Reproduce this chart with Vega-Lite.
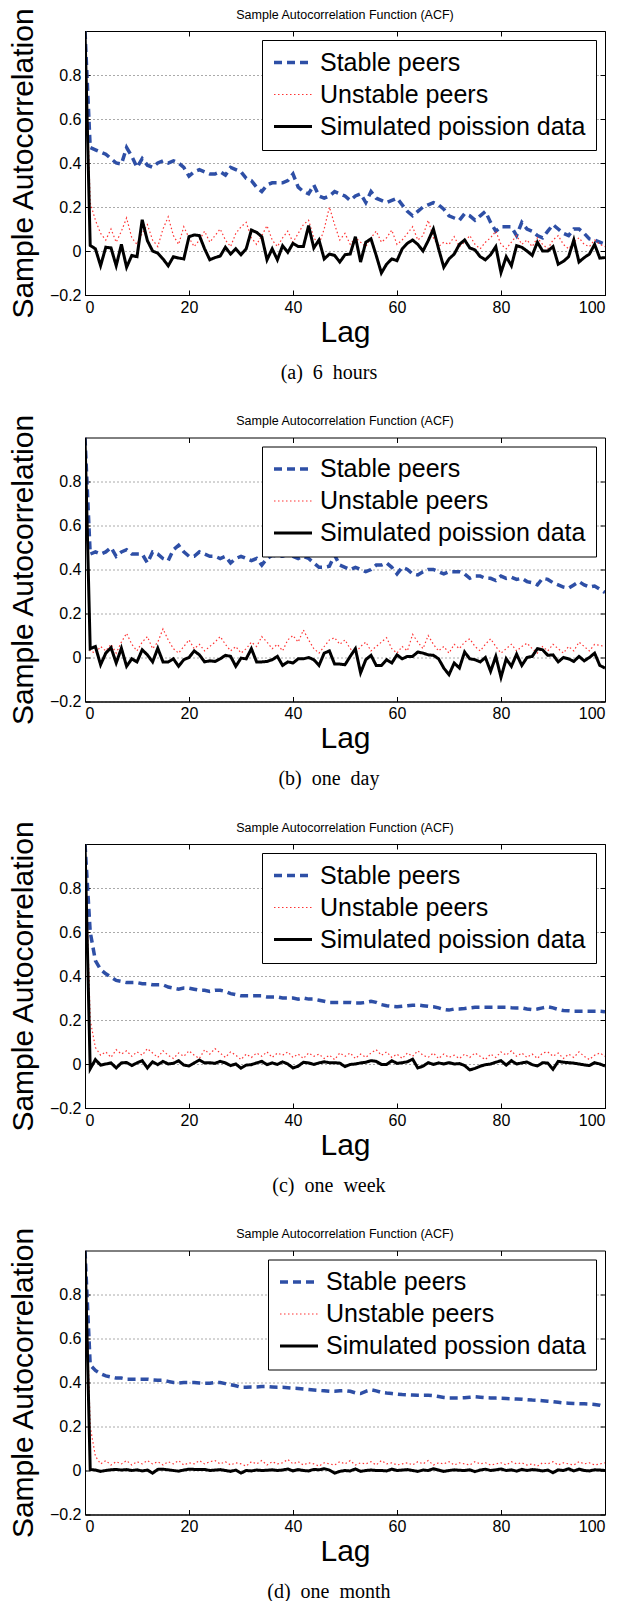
{
"$schema": "https://vega.github.io/schema/vega-lite/v6.json",
"background": "white",
"padding": {"left": 7, "top": 6, "right": 0, "bottom": 0},
"spacing": 29.5,
"config": {
 "view": {"stroke": "black", "strokeWidth": 1},
 "axis": {"labelFont": "Liberation Sans", "labelFontSize": 16, "labelColor": "black", "titleFont": "Liberation Sans", "titleFontSize": 30, "titleFontWeight": "normal", "titleColor": "black", "domainColor": "black", "tickColor": "black", "tickSize": -5, "labelPadding": 9},
 "axisX": {"grid": false, "titlePadding": 2},
 "axisY": {"gridColor": "#555555", "gridDash": [1, 3], "gridOpacity": 1, "titlePadding": 11},
 "legend": {"orient": "top-right", "offset": 9, "fillColor": "white", "strokeColor": "black", "padding": 10, "labelFont": "Liberation Sans", "labelFontSize": 25, "labelColor": "black", "symbolType": "stroke", "symbolSize": 1444, "clipHeight": 25, "rowPadding": 6, "labelOffset": 6, "labelLimit": 420},
 "title": {"font": "Liberation Sans", "fontSize": 12.5, "fontWeight": "normal", "color": "black", "offset": -14}
},
"datasets": {
"a": [
{"lag":0,"s":1,"u":1,"p":1},{"lag":1,"s":0.47,"u":0.22,"p":0.025},{"lag":2,"s":0.46,"u":0.14,"p":0.01},{"lag":3,"s":0.45,"u":0.08,"p":-0.067},{"lag":4,"s":0.44,"u":0.05,"p":0.017},{"lag":5,"s":0.42,"u":0.1,"p":0.014},{"lag":6,"s":0.4,"u":0.04,"p":-0.067},{"lag":7,"s":0.395,"u":0.09,"p":0.03},{"lag":8,"s":0.47,"u":0.15,"p":-0.074},{"lag":9,"s":0.43,"u":0.06,"p":-0.02},
{"lag":10,"s":0.38,"u":0.03,"p":-0.026},{"lag":11,"s":0.42,"u":0.08,"p":0.142},{"lag":12,"s":0.39,"u":0.12,"p":0.047},{"lag":13,"s":0.38,"u":0.05,"p":0},{"lag":14,"s":0.4,"u":0.02,"p":-0.01},{"lag":15,"s":0.41,"u":0.1,"p":-0.036},{"lag":16,"s":0.4,"u":0.155,"p":-0.067},{"lag":17,"s":0.41,"u":0.07,"p":-0.026},{"lag":18,"s":0.4,"u":0.03,"p":-0.032},{"lag":19,"s":0.38,"u":0.11,"p":-0.036},
{"lag":20,"s":0.34,"u":0.06,"p":0.065},{"lag":21,"s":0.36,"u":0.02,"p":0.073},{"lag":22,"s":0.37,"u":0.05,"p":0.07},{"lag":23,"s":0.36,"u":0.09,"p":0.01},{"lag":24,"s":0.35,"u":0.04,"p":-0.04},{"lag":25,"s":0.35,"u":0.07,"p":-0.03},{"lag":26,"s":0.36,"u":0.1,"p":-0.023},{"lag":27,"s":0.345,"u":0.05,"p":0.017},{"lag":28,"s":0.38,"u":0.02,"p":-0.014},{"lag":29,"s":0.37,"u":0.08,"p":0.01},
{"lag":30,"s":0.36,"u":0.11,"p":-0.017},{"lag":31,"s":0.33,"u":0.13,"p":0.01},{"lag":32,"s":0.32,"u":0.06,"p":0.095},{"lag":33,"s":0.29,"u":0.03,"p":0.085},{"lag":34,"s":0.27,"u":0.07,"p":0.065},{"lag":35,"s":0.3,"u":0.115,"p":-0.04},{"lag":36,"s":0.31,"u":0.05,"p":0.01},{"lag":37,"s":0.31,"u":0.02,"p":-0.04},{"lag":38,"s":0.31,"u":0.06,"p":0.024},{"lag":39,"s":0.32,"u":0.09,"p":-0.006},
{"lag":40,"s":0.35,"u":0.04,"p":0.035},{"lag":41,"s":0.29,"u":0.08,"p":0.02},{"lag":42,"s":0.27,"u":0.12,"p":0.02},{"lag":43,"s":0.26,"u":0.14,"p":0.115},{"lag":44,"s":0.3,"u":0.06,"p":0.014},{"lag":45,"s":0.25,"u":0.03,"p":0.05},{"lag":46,"s":0.24,"u":0.1,"p":-0.036},{"lag":47,"s":0.25,"u":0.2,"p":-0.014},{"lag":48,"s":0.27,"u":0.12,"p":-0.02},{"lag":49,"s":0.26,"u":0.05,"p":-0.05},
{"lag":50,"s":0.25,"u":0.08,"p":-0.017},{"lag":51,"s":0.23,"u":0.03,"p":-0.014},{"lag":52,"s":0.25,"u":0.06,"p":0.065},{"lag":53,"s":0.26,"u":0.04,"p":-0.05},{"lag":54,"s":0.22,"u":0.02,"p":0.04},{"lag":55,"s":0.27,"u":0.06,"p":0.055},{"lag":56,"s":0.24,"u":0.09,"p":-0.02},{"lag":57,"s":0.23,"u":0.04,"p":-0.1},{"lag":58,"s":0.22,"u":0.06,"p":-0.06},{"lag":59,"s":0.23,"u":0.095,"p":-0.036},
{"lag":60,"s":0.24,"u":0.03,"p":-0.044},{"lag":61,"s":0.21,"u":0.05,"p":0.01},{"lag":62,"s":0.18,"u":0.08,"p":0.035},{"lag":63,"s":0.16,"u":0.11,"p":0.05},{"lag":64,"s":0.18,"u":0.05,"p":0.03},{"lag":65,"s":0.2,"u":0.07,"p":0},{"lag":66,"s":0.21,"u":0.14,"p":0.047},{"lag":67,"s":0.22,"u":0.06,"p":0.1},{"lag":68,"s":0.21,"u":0.02,"p":0.01},{"lag":69,"s":0.19,"u":0.04,"p":-0.074},
{"lag":70,"s":0.16,"u":0.03,"p":-0.036},{"lag":71,"s":0.15,"u":0.065,"p":-0.014},{"lag":72,"s":0.14,"u":0.02,"p":0.03},{"lag":73,"s":0.17,"u":0.04,"p":0.05},{"lag":74,"s":0.16,"u":0.07,"p":0.014},{"lag":75,"s":0.14,"u":0.03,"p":0.005},{"lag":76,"s":0.16,"u":0.01,"p":-0.026},{"lag":77,"s":0.18,"u":0.04,"p":-0.04},{"lag":78,"s":0.13,"u":0.06,"p":-0.017},{"lag":79,"s":0.09,"u":0.09,"p":0.02},
{"lag":80,"s":0.11,"u":0.03,"p":-0.098},{"lag":81,"s":0.11,"u":0.01,"p":-0.026},{"lag":82,"s":0.11,"u":0.04,"p":-0.067},{"lag":83,"s":0.07,"u":0.07,"p":0.024},{"lag":84,"s":0.13,"u":0.03,"p":0.017},{"lag":85,"s":0.1,"u":0.05,"p":0},{"lag":86,"s":0.09,"u":0.02,"p":-0.02},{"lag":87,"s":0.07,"u":0.06,"p":0.04},{"lag":88,"s":0.06,"u":0.03,"p":0},{"lag":89,"s":0.09,"u":0.01,"p":0},
{"lag":90,"s":0.12,"u":0.05,"p":0.02},{"lag":91,"s":0.1,"u":0.07,"p":-0.06},{"lag":92,"s":0.08,"u":0.03,"p":-0.047},{"lag":93,"s":0.07,"u":0.01,"p":-0.026},{"lag":94,"s":0.1,"u":0.04,"p":0.05},{"lag":95,"s":0.1,"u":0.06,"p":-0.05},{"lag":96,"s":0.08,"u":0.03,"p":-0.03},{"lag":97,"s":0.055,"u":0.02,"p":-0.014},{"lag":98,"s":0.05,"u":0.05,"p":0.03},{"lag":99,"s":0.04,"u":0.03,"p":-0.032},
{"lag":100,"s":0.03,"u":0.02,"p":-0.03}
],
"b": [
{"lag":0,"s":1,"u":1,"p":1},{"lag":1,"s":0.47,"u":0.03,"p":0.04},{"lag":2,"s":0.48,"u":0.02,"p":0.05},{"lag":3,"s":0.47,"u":0.05,"p":-0.033},{"lag":4,"s":0.48,"u":0.03,"p":0.02},{"lag":5,"s":0.5,"u":0.06,"p":0.045},{"lag":6,"s":0.46,"u":0.02,"p":-0.025},{"lag":7,"s":0.48,"u":0.07,"p":0.042},{"lag":8,"s":0.49,"u":0.11,"p":-0.04},{"lag":9,"s":0.47,"u":0.06,"p":-0.006},
{"lag":10,"s":0.47,"u":0.03,"p":-0.02},{"lag":11,"s":0.47,"u":0.07,"p":0.035},{"lag":12,"s":0.43,"u":0.095,"p":0.012},{"lag":13,"s":0.48,"u":0.04,"p":-0.02},{"lag":14,"s":0.47,"u":0.07,"p":0.042},{"lag":15,"s":0.45,"u":0.13,"p":-0.02},{"lag":16,"s":0.44,"u":0.08,"p":-0.02},{"lag":17,"s":0.49,"u":0.04,"p":-0.006},{"lag":18,"s":0.51,"u":0.02,"p":-0.04},{"lag":19,"s":0.48,"u":0.05,"p":-0.01},
{"lag":20,"s":0.46,"u":0.08,"p":0},{"lag":21,"s":0.46,"u":0.04,"p":0.03},{"lag":22,"s":0.48,"u":0.06,"p":0.012},{"lag":23,"s":0.47,"u":0.03,"p":-0.02},{"lag":24,"s":0.46,"u":0.05,"p":-0.015},{"lag":25,"s":0.46,"u":0.07,"p":-0.018},{"lag":26,"s":0.45,"u":0.095,"p":-0.006},{"lag":27,"s":0.46,"u":0.06,"p":0.01},{"lag":28,"s":0.43,"u":0.03,"p":0.005},{"lag":29,"s":0.45,"u":0.05,"p":-0.04},
{"lag":30,"s":0.46,"u":0.02,"p":-0.003},{"lag":31,"s":0.45,"u":0.04,"p":-0.006},{"lag":32,"s":0.44,"u":0.07,"p":0.04},{"lag":33,"s":0.45,"u":0.05,"p":-0.02},{"lag":34,"s":0.42,"u":0.095,"p":-0.02},{"lag":35,"s":0.45,"u":0.07,"p":-0.018},{"lag":36,"s":0.465,"u":0.04,"p":-0.01},{"lag":37,"s":0.46,"u":0.06,"p":0.005},{"lag":38,"s":0.46,"u":0.03,"p":-0.036},{"lag":39,"s":0.47,"u":0.08,"p":-0.02},
{"lag":40,"s":0.46,"u":0.1,"p":-0.025},{"lag":41,"s":0.45,"u":0.07,"p":-0.006},{"lag":42,"s":0.46,"u":0.125,"p":-0.006},{"lag":43,"s":0.45,"u":0.08,"p":0},{"lag":44,"s":0.43,"u":0.04,"p":-0.01},{"lag":45,"s":0.41,"u":0.02,"p":-0.036},{"lag":46,"s":0.41,"u":0.05,"p":0.02},{"lag":47,"s":0.415,"u":0.08,"p":0.03},{"lag":48,"s":0.465,"u":0.09,"p":-0.03},{"lag":49,"s":0.42,"u":0.06,"p":-0.03},
{"lag":50,"s":0.41,"u":0.08,"p":-0.033},{"lag":51,"s":0.4,"u":0.04,"p":0.005},{"lag":52,"s":0.41,"u":0.02,"p":0.04},{"lag":53,"s":0.4,"u":0.05,"p":-0.07},{"lag":54,"s":0.39,"u":0.07,"p":-0.01},{"lag":55,"s":0.4,"u":0.03,"p":0.01},{"lag":56,"s":0.42,"u":0.05,"p":-0.036},{"lag":57,"s":0.42,"u":0.07,"p":-0.036},{"lag":58,"s":0.43,"u":0.09,"p":-0.01},{"lag":59,"s":0.41,"u":0.04,"p":-0.025},
{"lag":60,"s":0.38,"u":0.02,"p":0.012},{"lag":61,"s":0.41,"u":0.05,"p":-0.006},{"lag":62,"s":0.4,"u":0.03,"p":0.005},{"lag":63,"s":0.38,"u":0.105,"p":0.005},{"lag":64,"s":0.375,"u":0.07,"p":0.025},{"lag":65,"s":0.39,"u":0.04,"p":0.02},{"lag":66,"s":0.4,"u":0.1,"p":0.012},{"lag":67,"s":0.4,"u":0.06,"p":0.01},{"lag":68,"s":0.39,"u":0.03,"p":-0.006},{"lag":69,"s":0.38,"u":0.05,"p":-0.048},
{"lag":70,"s":0.39,"u":0.02,"p":-0.078},{"lag":71,"s":0.39,"u":0.06,"p":-0.025},{"lag":72,"s":0.39,"u":0.04,"p":-0.048},{"lag":73,"s":0.38,"u":0.07,"p":0.025},{"lag":74,"s":0.36,"u":0.085,"p":-0.006},{"lag":75,"s":0.37,"u":0.05,"p":-0.01},{"lag":76,"s":0.37,"u":0.03,"p":-0.02},{"lag":77,"s":0.36,"u":0.06,"p":0},{"lag":78,"s":0.36,"u":0.085,"p":-0.063},{"lag":79,"s":0.35,"u":0.05,"p":0.005},
{"lag":80,"s":0.37,"u":0.02,"p":-0.09},{"lag":81,"s":0.36,"u":0.04,"p":-0.006},{"lag":82,"s":0.365,"u":0.06,"p":-0.04},{"lag":83,"s":0.355,"u":0.03,"p":0.015},{"lag":84,"s":0.36,"u":0.05,"p":-0.036},{"lag":85,"s":0.345,"u":0.065,"p":0},{"lag":86,"s":0.34,"u":0.04,"p":0.005},{"lag":87,"s":0.33,"u":0.02,"p":0.04},{"lag":88,"s":0.36,"u":0.05,"p":0.035},{"lag":89,"s":0.355,"u":0.03,"p":0.01},
{"lag":90,"s":0.34,"u":0.06,"p":0.012},{"lag":91,"s":0.33,"u":0.04,"p":-0.02},{"lag":92,"s":0.32,"u":0.02,"p":0},{"lag":93,"s":0.315,"u":0.05,"p":-0.006},{"lag":94,"s":0.33,"u":0.03,"p":-0.018},{"lag":95,"s":0.345,"u":0.07,"p":0.005},{"lag":96,"s":0.33,"u":0.05,"p":-0.015},{"lag":97,"s":0.32,"u":0.03,"p":0},{"lag":98,"s":0.325,"u":0.06,"p":0.02},{"lag":99,"s":0.31,"u":0.055,"p":-0.036},
{"lag":100,"s":0.295,"u":0.05,"p":-0.048}
],
"c": [
{"lag":0,"s":1,"u":1,"p":1},{"lag":1,"s":0.6,"u":0.2,"p":-0.022},{"lag":2,"s":0.47,"u":0.075,"p":0.02},{"lag":3,"s":0.43,"u":0.04,"p":-0.005},{"lag":4,"s":0.41,"u":0.055,"p":0},{"lag":5,"s":0.395,"u":0.03,"p":0.005},{"lag":6,"s":0.38,"u":0.065,"p":-0.018},{"lag":7,"s":0.375,"u":0.045,"p":0.005},{"lag":8,"s":0.37,"u":0.06,"p":0.007},{"lag":9,"s":0.37,"u":0.035,"p":-0.007},
{"lag":10,"s":0.37,"u":0.055,"p":0.005},{"lag":11,"s":0.365,"u":0.04,"p":0.015},{"lag":12,"s":0.365,"u":0.07,"p":-0.018},{"lag":13,"s":0.36,"u":0.05,"p":0.01},{"lag":14,"s":0.36,"u":0.03,"p":-0.003},{"lag":15,"s":0.36,"u":0.06,"p":0.012},{"lag":16,"s":0.35,"u":0.04,"p":0},{"lag":17,"s":0.345,"u":0.025,"p":0.003},{"lag":18,"s":0.34,"u":0.05,"p":0.015},{"lag":19,"s":0.345,"u":0.035,"p":-0.005},
{"lag":20,"s":0.345,"u":0.06,"p":-0.009},{"lag":21,"s":0.34,"u":0.04,"p":0.005},{"lag":22,"s":0.335,"u":0.025,"p":0.018},{"lag":23,"s":0.335,"u":0.065,"p":0.005},{"lag":24,"s":0.33,"u":0.045,"p":0.006},{"lag":25,"s":0.335,"u":0.07,"p":0.003},{"lag":26,"s":0.335,"u":0.05,"p":0.012},{"lag":27,"s":0.33,"u":0.03,"p":0.005},{"lag":28,"s":0.32,"u":0.055,"p":-0.007},{"lag":29,"s":0.315,"u":0.04,"p":0},
{"lag":30,"s":0.31,"u":0.02,"p":-0.019},{"lag":31,"s":0.31,"u":0.045,"p":-0.005},{"lag":32,"s":0.31,"u":0.03,"p":-0.003},{"lag":33,"s":0.31,"u":0.05,"p":0.005},{"lag":34,"s":0.31,"u":0.035,"p":0.012},{"lag":35,"s":0.305,"u":0.055,"p":-0.003},{"lag":36,"s":0.305,"u":0.03,"p":0.005},{"lag":37,"s":0.305,"u":0.05,"p":-0.002},{"lag":38,"s":0.3,"u":0.04,"p":0.01},{"lag":39,"s":0.3,"u":0.055,"p":0},
{"lag":40,"s":0.3,"u":0.03,"p":-0.018},{"lag":41,"s":0.295,"u":0.045,"p":-0.01},{"lag":42,"s":0.3,"u":0.025,"p":0.008},{"lag":43,"s":0.295,"u":0.05,"p":0.005},{"lag":44,"s":0.295,"u":0.035,"p":-0.002},{"lag":45,"s":0.29,"u":0.045,"p":0.005},{"lag":46,"s":0.285,"u":0.025,"p":0.01},{"lag":47,"s":0.28,"u":0.04,"p":0.006},{"lag":48,"s":0.28,"u":0.02,"p":0.006},{"lag":49,"s":0.28,"u":0.05,"p":0.004},
{"lag":50,"s":0.28,"u":0.035,"p":-0.012},{"lag":51,"s":0.28,"u":0.05,"p":-0.002},{"lag":52,"s":0.277,"u":0.025,"p":0},{"lag":53,"s":0.277,"u":0.045,"p":0.005},{"lag":54,"s":0.28,"u":0.03,"p":0.008},{"lag":55,"s":0.285,"u":0.05,"p":0.015},{"lag":56,"s":0.28,"u":0.065,"p":0.012},{"lag":57,"s":0.27,"u":0.04,"p":-0.002},{"lag":58,"s":0.265,"u":0.055,"p":-0.002},{"lag":59,"s":0.262,"u":0.03,"p":0.015},
{"lag":60,"s":0.26,"u":0.045,"p":0.003},{"lag":61,"s":0.262,"u":0.025,"p":0.006},{"lag":62,"s":0.265,"u":0.05,"p":0.01},{"lag":63,"s":0.267,"u":0.035,"p":0.022},{"lag":64,"s":0.268,"u":0.06,"p":-0.018},{"lag":65,"s":0.265,"u":0.04,"p":-0.01},{"lag":66,"s":0.262,"u":0.03,"p":0.006},{"lag":67,"s":0.26,"u":0.05,"p":-0.002},{"lag":68,"s":0.255,"u":0.025,"p":0.005},{"lag":69,"s":0.248,"u":0.045,"p":0},
{"lag":70,"s":0.245,"u":0.03,"p":0.006},{"lag":71,"s":0.25,"u":0.04,"p":0},{"lag":72,"s":0.25,"u":0.025,"p":0.002},{"lag":73,"s":0.252,"u":0.045,"p":-0.007},{"lag":74,"s":0.255,"u":0.03,"p":-0.027},{"lag":75,"s":0.258,"u":0.05,"p":-0.02},{"lag":76,"s":0.258,"u":0.035,"p":-0.01},{"lag":77,"s":0.258,"u":0.02,"p":-0.003},{"lag":78,"s":0.258,"u":0.045,"p":0},{"lag":79,"s":0.258,"u":0.03,"p":0.008},
{"lag":80,"s":0.258,"u":0.055,"p":0.015},{"lag":81,"s":0.258,"u":0.04,"p":-0.005},{"lag":82,"s":0.256,"u":0.06,"p":0.015},{"lag":83,"s":0.255,"u":0.035,"p":0},{"lag":84,"s":0.255,"u":0.05,"p":0.005},{"lag":85,"s":0.25,"u":0.03,"p":0.009},{"lag":86,"s":0.247,"u":0.045,"p":-0.003},{"lag":87,"s":0.25,"u":0.025,"p":-0.009},{"lag":88,"s":0.255,"u":0.05,"p":0.006},{"lag":89,"s":0.26,"u":0.055,"p":0.004},
{"lag":90,"s":0.255,"u":0.035,"p":-0.024},{"lag":91,"s":0.248,"u":0.05,"p":0.012},{"lag":92,"s":0.243,"u":0.025,"p":0.008},{"lag":93,"s":0.242,"u":0.045,"p":0.006},{"lag":94,"s":0.24,"u":0.03,"p":0.004},{"lag":95,"s":0.24,"u":0.055,"p":0},{"lag":96,"s":0.24,"u":0.035,"p":-0.004},{"lag":97,"s":0.24,"u":0.02,"p":-0.007},{"lag":98,"s":0.24,"u":0.04,"p":0.006},{"lag":99,"s":0.24,"u":0.05,"p":0},
{"lag":100,"s":0.238,"u":0.035,"p":-0.009}
],
"d": [
{"lag":0,"s":1,"u":1,"p":1},{"lag":1,"s":0.48,"u":0.2,"p":0.005},{"lag":2,"s":0.455,"u":0.065,"p":0.002},{"lag":3,"s":0.44,"u":0.03,"p":-0.004},{"lag":4,"s":0.43,"u":0.045,"p":0},{"lag":5,"s":0.425,"u":0.025,"p":0.003},{"lag":6,"s":0.42,"u":0.04,"p":0.005},{"lag":7,"s":0.42,"u":0.03,"p":0.002},{"lag":8,"s":0.415,"u":0.045,"p":0.004},{"lag":9,"s":0.415,"u":0.025,"p":0},
{"lag":10,"s":0.415,"u":0.04,"p":0.003},{"lag":11,"s":0.415,"u":0.03,"p":-0.002},{"lag":12,"s":0.415,"u":0.045,"p":0.002},{"lag":13,"s":0.412,"u":0.03,"p":-0.012},{"lag":14,"s":0.41,"u":0.04,"p":0.005},{"lag":15,"s":0.41,"u":0.025,"p":0.006},{"lag":16,"s":0.405,"u":0.04,"p":0.003},{"lag":17,"s":0.4,"u":0.03,"p":0},{"lag":18,"s":0.398,"u":0.045,"p":-0.003},{"lag":19,"s":0.4,"u":0.025,"p":0.002},
{"lag":20,"s":0.4,"u":0.035,"p":0.006},{"lag":21,"s":0.4,"u":0.03,"p":0.005},{"lag":22,"s":0.398,"u":0.045,"p":0.004},{"lag":23,"s":0.397,"u":0.03,"p":0.005},{"lag":24,"s":0.397,"u":0.04,"p":0},{"lag":25,"s":0.4,"u":0.045,"p":0.002},{"lag":26,"s":0.4,"u":0.03,"p":0.004},{"lag":27,"s":0.395,"u":0.04,"p":0},{"lag":28,"s":0.39,"u":0.025,"p":-0.004},{"lag":29,"s":0.385,"u":0.035,"p":0.002},
{"lag":30,"s":0.378,"u":0.03,"p":-0.012},{"lag":31,"s":0.378,"u":0.02,"p":0},{"lag":32,"s":0.38,"u":0.04,"p":-0.002},{"lag":33,"s":0.38,"u":0.03,"p":0.002},{"lag":34,"s":0.382,"u":0.045,"p":0},{"lag":35,"s":0.382,"u":0.025,"p":0.001},{"lag":36,"s":0.38,"u":0.04,"p":0.003},{"lag":37,"s":0.378,"u":0.03,"p":0},{"lag":38,"s":0.378,"u":0.035,"p":0.002},{"lag":39,"s":0.376,"u":0.05,"p":0.007},
{"lag":40,"s":0.374,"u":0.03,"p":-0.002},{"lag":41,"s":0.373,"u":0.04,"p":0.004},{"lag":42,"s":0.37,"u":0.025,"p":0},{"lag":43,"s":0.368,"u":0.035,"p":-0.002},{"lag":44,"s":0.366,"u":0.03,"p":0.005},{"lag":45,"s":0.364,"u":0.02,"p":0.003},{"lag":46,"s":0.362,"u":0.035,"p":0.008},{"lag":47,"s":0.36,"u":0.03,"p":0.002},{"lag":48,"s":0.36,"u":0.025,"p":-0.012},{"lag":49,"s":0.362,"u":0.04,"p":-0.004},
{"lag":50,"s":0.363,"u":0.03,"p":0},{"lag":51,"s":0.36,"u":0.045,"p":-0.002},{"lag":52,"s":0.353,"u":0.025,"p":0.007},{"lag":53,"s":0.35,"u":0.035,"p":-0.004},{"lag":54,"s":0.36,"u":0.03,"p":0},{"lag":55,"s":0.367,"u":0.04,"p":0.002},{"lag":56,"s":0.362,"u":0.025,"p":0},{"lag":57,"s":0.355,"u":0.045,"p":0},{"lag":58,"s":0.352,"u":0.03,"p":-0.002},{"lag":59,"s":0.35,"u":0.035,"p":0.006},
{"lag":60,"s":0.347,"u":0.025,"p":0},{"lag":61,"s":0.345,"u":0.03,"p":0.002},{"lag":62,"s":0.344,"u":0.035,"p":0.004},{"lag":63,"s":0.343,"u":0.025,"p":0},{"lag":64,"s":0.342,"u":0.04,"p":-0.004},{"lag":65,"s":0.342,"u":0.03,"p":0.002},{"lag":66,"s":0.342,"u":0.045,"p":0},{"lag":67,"s":0.34,"u":0.025,"p":0.008},{"lag":68,"s":0.336,"u":0.035,"p":0.002},{"lag":69,"s":0.332,"u":0.03,"p":-0.004},
{"lag":70,"s":0.33,"u":0.04,"p":0},{"lag":71,"s":0.33,"u":0.025,"p":0.003},{"lag":72,"s":0.33,"u":0.035,"p":0.001},{"lag":73,"s":0.331,"u":0.03,"p":0},{"lag":74,"s":0.333,"u":0.025,"p":0.003},{"lag":75,"s":0.335,"u":0.04,"p":-0.005},{"lag":76,"s":0.333,"u":0.03,"p":0.002},{"lag":77,"s":0.331,"u":0.035,"p":0.006},{"lag":78,"s":0.33,"u":0.025,"p":0},{"lag":79,"s":0.329,"u":0.03,"p":0.003},
{"lag":80,"s":0.328,"u":0.035,"p":0.007},{"lag":81,"s":0.327,"u":0.025,"p":0},{"lag":82,"s":0.326,"u":0.04,"p":0.003},{"lag":83,"s":0.325,"u":0.03,"p":-0.003},{"lag":84,"s":0.324,"u":0.035,"p":0.005},{"lag":85,"s":0.322,"u":0.025,"p":0},{"lag":86,"s":0.32,"u":0.03,"p":0.004},{"lag":87,"s":0.319,"u":0.02,"p":0.002},{"lag":88,"s":0.317,"u":0.035,"p":-0.002},{"lag":89,"s":0.315,"u":0.03,"p":0.002},
{"lag":90,"s":0.313,"u":0.04,"p":-0.01},{"lag":91,"s":0.31,"u":0.025,"p":0.003},{"lag":92,"s":0.307,"u":0.035,"p":0},{"lag":93,"s":0.306,"u":0.03,"p":0.008},{"lag":94,"s":0.305,"u":0.025,"p":-0.002},{"lag":95,"s":0.304,"u":0.04,"p":0.006},{"lag":96,"s":0.303,"u":0.03,"p":0},{"lag":97,"s":0.302,"u":0.035,"p":-0.002},{"lag":98,"s":0.3,"u":0.025,"p":0.003},{"lag":99,"s":0.297,"u":0.03,"p":0.002},
{"lag":100,"s":0.29,"u":0.035,"p":0}
]
},
"vconcat": [
{"title": {"text": "(a)\u00a0 6\u00a0 hours", "orient": "bottom", "anchor": "middle", "font": "Liberation Serif", "fontSize": 20, "offset": 15, "dx": 22},
 "resolve": {"scale": {"color": "independent", "strokeDash": "independent", "strokeWidth": "independent"}, "legend": {"color": "independent", "strokeDash": "independent", "strokeWidth": "independent"}},
 "vconcat": [{
  "title": "Sample Autocorrelation Function (ACF)",
  "width": 520, "height": 264,
  "data": {"name": "a"},
  "transform": [{"fold": ["s", "u", "p"], "as": ["k", "v"]}],
  "layer": [
   {"mark": {"type": "line", "clip": true},
    "encoding": {
     "x": {"field": "lag", "type": "quantitative", "scale": {"domain": [0, 100], "nice": false}, "axis": {"values": [0, 20, 40, 60, 80, 100], "title": "Lag"}},
     "y": {"field": "v", "type": "quantitative", "scale": {"domain": [-0.2, 1], "nice": false, "zero": false}, "axis": {"values": [-0.2, 0, 0.2, 0.4, 0.6, 0.8], "format": "~g", "title": "Sample Autocorrelation"}},
     "color": {"field": "k", "type": "nominal", "scale": {"domain": ["s", "u", "p"], "range": ["#2e4fa6", "#ff3333", "#000000"]}, "legend": {"title": null, "labelExpr": "datum.label == 's' ? 'Stable peers' : datum.label == 'u' ? 'Unstable peers' : 'Simulated poission data'"}},
     "strokeDash": {"field": "k", "type": "nominal", "scale": {"domain": ["s", "u", "p"], "range": [[8, 5], [1.5, 2.5], [1, 0]]}, "legend": {"title": null, "labelExpr": "datum.label == 's' ? 'Stable peers' : datum.label == 'u' ? 'Unstable peers' : 'Simulated poission data'"}},
     "strokeWidth": {"field": "k", "type": "nominal", "scale": {"type": "ordinal", "domain": ["s", "u", "p"], "range": [3.5, 1.2, 3]}, "legend": {"title": null, "labelExpr": "datum.label == 's' ? 'Stable peers' : datum.label == 'u' ? 'Unstable peers' : 'Simulated poission data'"}}
    }},
   {"mark": {"type": "line", "opacity": 0},
    "encoding": {
     "x": {"field": "lag", "type": "quantitative", "axis": {"orient": "top", "labels": false, "title": null, "domain": false, "grid": false, "values": [0, 20, 40, 60, 80, 100]}},
     "y": {"field": "v", "type": "quantitative", "axis": {"orient": "right", "labels": false, "title": null, "domain": false, "grid": false, "values": [-0.2, 0, 0.2, 0.4, 0.6, 0.8]}}
    }}
  ],
  "resolve": {"axis": {"x": "independent", "y": "independent"}}
 }]
},
{"title": {"text": "(b)\u00a0 one\u00a0 day", "orient": "bottom", "anchor": "middle", "font": "Liberation Serif", "fontSize": 20, "offset": 15, "dx": 22},
 "resolve": {"scale": {"color": "independent", "strokeDash": "independent", "strokeWidth": "independent"}, "legend": {"color": "independent", "strokeDash": "independent", "strokeWidth": "independent"}},
 "vconcat": [{
  "title": "Sample Autocorrelation Function (ACF)",
  "width": 520, "height": 264,
  "data": {"name": "b"},
  "transform": [{"fold": ["s", "u", "p"], "as": ["k", "v"]}],
  "layer": [
   {"mark": {"type": "line", "clip": true},
    "encoding": {
     "x": {"field": "lag", "type": "quantitative", "scale": {"domain": [0, 100], "nice": false}, "axis": {"values": [0, 20, 40, 60, 80, 100], "title": "Lag"}},
     "y": {"field": "v", "type": "quantitative", "scale": {"domain": [-0.2, 1], "nice": false, "zero": false}, "axis": {"values": [-0.2, 0, 0.2, 0.4, 0.6, 0.8], "format": "~g", "title": "Sample Autocorrelation"}},
     "color": {"field": "k", "type": "nominal", "scale": {"domain": ["s", "u", "p"], "range": ["#2e4fa6", "#ff3333", "#000000"]}, "legend": {"title": null, "labelExpr": "datum.label == 's' ? 'Stable peers' : datum.label == 'u' ? 'Unstable peers' : 'Simulated poission data'"}},
     "strokeDash": {"field": "k", "type": "nominal", "scale": {"domain": ["s", "u", "p"], "range": [[8, 5], [1.5, 2.5], [1, 0]]}, "legend": {"title": null, "labelExpr": "datum.label == 's' ? 'Stable peers' : datum.label == 'u' ? 'Unstable peers' : 'Simulated poission data'"}},
     "strokeWidth": {"field": "k", "type": "nominal", "scale": {"type": "ordinal", "domain": ["s", "u", "p"], "range": [3.5, 1.2, 3]}, "legend": {"title": null, "labelExpr": "datum.label == 's' ? 'Stable peers' : datum.label == 'u' ? 'Unstable peers' : 'Simulated poission data'"}}
    }},
   {"mark": {"type": "line", "opacity": 0},
    "encoding": {
     "x": {"field": "lag", "type": "quantitative", "axis": {"orient": "top", "labels": false, "title": null, "domain": false, "grid": false, "values": [0, 20, 40, 60, 80, 100]}},
     "y": {"field": "v", "type": "quantitative", "axis": {"orient": "right", "labels": false, "title": null, "domain": false, "grid": false, "values": [-0.2, 0, 0.2, 0.4, 0.6, 0.8]}}
    }}
  ],
  "resolve": {"axis": {"x": "independent", "y": "independent"}}
 }]
},
{"title": {"text": "(c)\u00a0 one\u00a0 week", "orient": "bottom", "anchor": "middle", "font": "Liberation Serif", "fontSize": 20, "offset": 15, "dx": 22},
 "resolve": {"scale": {"color": "independent", "strokeDash": "independent", "strokeWidth": "independent"}, "legend": {"color": "independent", "strokeDash": "independent", "strokeWidth": "independent"}},
 "vconcat": [{
  "title": "Sample Autocorrelation Function (ACF)",
  "width": 520, "height": 264,
  "data": {"name": "c"},
  "transform": [{"fold": ["s", "u", "p"], "as": ["k", "v"]}],
  "layer": [
   {"mark": {"type": "line", "clip": true},
    "encoding": {
     "x": {"field": "lag", "type": "quantitative", "scale": {"domain": [0, 100], "nice": false}, "axis": {"values": [0, 20, 40, 60, 80, 100], "title": "Lag"}},
     "y": {"field": "v", "type": "quantitative", "scale": {"domain": [-0.2, 1], "nice": false, "zero": false}, "axis": {"values": [-0.2, 0, 0.2, 0.4, 0.6, 0.8], "format": "~g", "title": "Sample Autocorrelation"}},
     "color": {"field": "k", "type": "nominal", "scale": {"domain": ["s", "u", "p"], "range": ["#2e4fa6", "#ff3333", "#000000"]}, "legend": {"title": null, "labelExpr": "datum.label == 's' ? 'Stable peers' : datum.label == 'u' ? 'Unstable peers' : 'Simulated poission data'"}},
     "strokeDash": {"field": "k", "type": "nominal", "scale": {"domain": ["s", "u", "p"], "range": [[8, 5], [1.5, 2.5], [1, 0]]}, "legend": {"title": null, "labelExpr": "datum.label == 's' ? 'Stable peers' : datum.label == 'u' ? 'Unstable peers' : 'Simulated poission data'"}},
     "strokeWidth": {"field": "k", "type": "nominal", "scale": {"type": "ordinal", "domain": ["s", "u", "p"], "range": [3.5, 1.2, 3]}, "legend": {"title": null, "labelExpr": "datum.label == 's' ? 'Stable peers' : datum.label == 'u' ? 'Unstable peers' : 'Simulated poission data'"}}
    }},
   {"mark": {"type": "line", "opacity": 0},
    "encoding": {
     "x": {"field": "lag", "type": "quantitative", "axis": {"orient": "top", "labels": false, "title": null, "domain": false, "grid": false, "values": [0, 20, 40, 60, 80, 100]}},
     "y": {"field": "v", "type": "quantitative", "axis": {"orient": "right", "labels": false, "title": null, "domain": false, "grid": false, "values": [-0.2, 0, 0.2, 0.4, 0.6, 0.8]}}
    }}
  ],
  "resolve": {"axis": {"x": "independent", "y": "independent"}}
 }]
},
{"title": {"text": "(d)\u00a0 one\u00a0 month", "orient": "bottom", "anchor": "middle", "font": "Liberation Serif", "fontSize": 20, "offset": 15, "dx": 22},
 "resolve": {"scale": {"color": "independent", "strokeDash": "independent", "strokeWidth": "independent"}, "legend": {"color": "independent", "strokeDash": "independent", "strokeWidth": "independent"}},
 "vconcat": [{
  "title": "Sample Autocorrelation Function (ACF)",
  "width": 520, "height": 264,
  "data": {"name": "d"},
  "transform": [{"fold": ["s", "u", "p"], "as": ["k", "v"]}],
  "layer": [
   {"mark": {"type": "line", "clip": true},
    "encoding": {
     "x": {"field": "lag", "type": "quantitative", "scale": {"domain": [0, 100], "nice": false}, "axis": {"values": [0, 20, 40, 60, 80, 100], "title": "Lag"}},
     "y": {"field": "v", "type": "quantitative", "scale": {"domain": [-0.2, 1], "nice": false, "zero": false}, "axis": {"values": [-0.2, 0, 0.2, 0.4, 0.6, 0.8], "format": "~g", "title": "Sample Autocorrelation"}},
     "color": {"field": "k", "type": "nominal", "scale": {"domain": ["s", "u", "p"], "range": ["#2e4fa6", "#ff3333", "#000000"]}, "legend": {"title": null, "labelExpr": "datum.label == 's' ? 'Stable peers' : datum.label == 'u' ? 'Unstable peers' : 'Simulated possion data'"}},
     "strokeDash": {"field": "k", "type": "nominal", "scale": {"domain": ["s", "u", "p"], "range": [[8, 5], [1.5, 2.5], [1, 0]]}, "legend": {"title": null, "labelExpr": "datum.label == 's' ? 'Stable peers' : datum.label == 'u' ? 'Unstable peers' : 'Simulated possion data'"}},
     "strokeWidth": {"field": "k", "type": "nominal", "scale": {"type": "ordinal", "domain": ["s", "u", "p"], "range": [3.5, 1.2, 3]}, "legend": {"title": null, "labelExpr": "datum.label == 's' ? 'Stable peers' : datum.label == 'u' ? 'Unstable peers' : 'Simulated possion data'"}}
    }},
   {"mark": {"type": "line", "opacity": 0},
    "encoding": {
     "x": {"field": "lag", "type": "quantitative", "axis": {"orient": "top", "labels": false, "title": null, "domain": false, "grid": false, "values": [0, 20, 40, 60, 80, 100]}},
     "y": {"field": "v", "type": "quantitative", "axis": {"orient": "right", "labels": false, "title": null, "domain": false, "grid": false, "values": [-0.2, 0, 0.2, 0.4, 0.6, 0.8]}}
    }}
  ],
  "resolve": {"axis": {"x": "independent", "y": "independent"}}
 }]
}
],
"resolve": {"scale": {"color": "independent", "strokeDash": "independent", "strokeWidth": "independent"}, "legend": {"color": "independent", "strokeDash": "independent", "strokeWidth": "independent"}}
}
